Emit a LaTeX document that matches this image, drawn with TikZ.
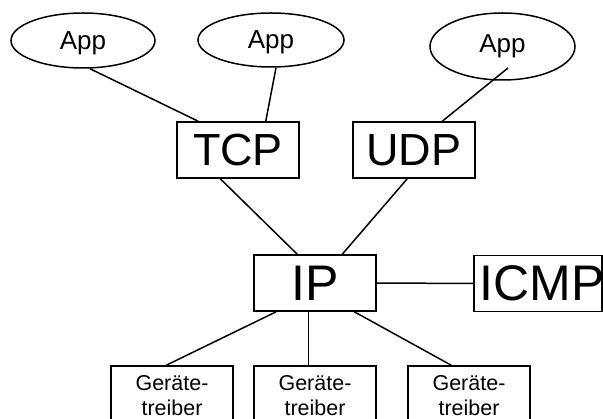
\documentclass[tikz,border=0pt]{standalone}
\usepackage{fontspec}
\setmainfont{Liberation Sans}
\usetikzlibrary{shapes.geometric,calc}
\begin{document}
\begin{tikzpicture}[x=1pt,y=-1pt,
  conn/.style={line width=1.5pt},
  app/.style={draw,ellipse,line width=1.5pt,inner sep=0pt,font=\fontsize{26}{30}\selectfont},
  proto/.style={draw,rectangle,line width=1.5pt,inner sep=0pt,minimum width=122pt,minimum height=56pt},
  drv/.style={draw,rectangle,line width=1.5pt,inner sep=0pt,minimum width=122pt,minimum height=60pt,align=center,font=\fontsize{21.5}{25}\selectfont}]
\useasboundingbox (0,0) rectangle (603,419);
\clip (0,0) rectangle (603,419);
\node[app,minimum width=144pt,minimum height=55pt,text depth=0pt] (app1) at (83,40.5) {App};
\node[app,minimum width=146pt,minimum height=54pt,text depth=0pt] (app2) at (271,40) {App};
\node[app,minimum width=145pt,minimum height=67pt] (app3) at (502.5,46.5) {App};
\node[proto,font=\fontsize{45}{50}\selectfont] (tcp) at (238,150) {TCP};
\node[proto,font=\fontsize{45}{50}\selectfont] (udp) at (414,150) {UDP};
\node[proto,font=\fontsize{50}{55}\selectfont] (ip) at (315,283) {IP};
\node[proto,minimum width=128pt,font=\fontsize{50}{55}\selectfont] (icmp) at (538,283.5) {\makebox[128pt][c]{\hspace*{8pt}ICMP}};
\node[drv] (g1) at (172,396) {Geräte-\\treiber};
\node[drv] (g2) at (315,396) {Geräte-\\treiber};
\node[drv] (g3) at (469,396) {Geräte-\\treiber};
\draw[conn] ($(app1.south)+(7,0)$) -- ($(tcp.north west)+(22,0)$);
\draw[conn] ($(app2.south)+(5,0)$) -- ($(tcp.north east)+(-34,0)$);
\draw[conn] ($(app3.center)+(5.5,21.5)$) -- ($(udp.north west)+(90,0)$);
\draw[conn] ($(tcp.south west)+(44,0)$) -- ($(ip.north west)+(44,0)$);
\draw[conn] ($(udp.south west)+(55,0)$) -- ($(ip.north west)+(89,0)$);
\draw[conn] (ip.east) -- (icmp.west);
\draw[conn] ($(ip.south west)+(23,0)$) -- ($(g1.north west)+(56,0)$);
\draw[conn] ($(ip.south west)+(55,0)$) -- ($(g2.north west)+(55,0)$);
\draw[conn] ($(ip.south west)+(101,0)$) -- ($(g3.north west)+(44,0)$);
\end{tikzpicture}
\end{document}
